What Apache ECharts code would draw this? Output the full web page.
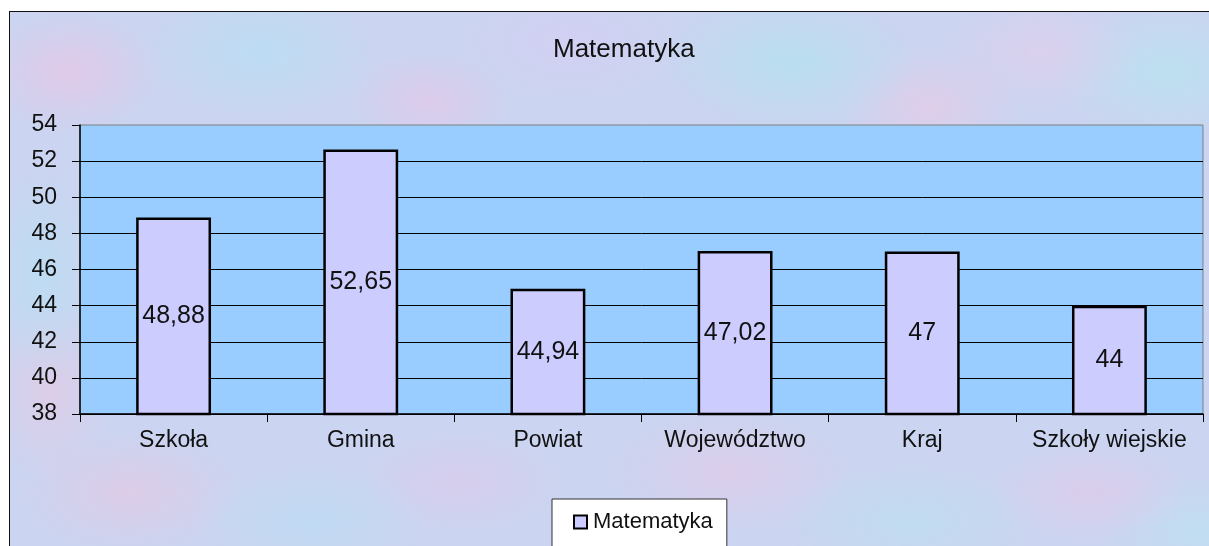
<!DOCTYPE html>
<html>
<head>
<meta charset="utf-8">
<script src="https://cdn.jsdelivr.net/npm/echarts@6/dist/echarts.min.js"></script>
<style>
html,body{margin:0;padding:0;background:#fff;width:1209px;height:546px;overflow:hidden;}
#frame{position:absolute;left:9px;top:11px;width:1220px;height:560px;border-left:1.5px solid #111;border-top:1.5px solid #111;
background-color:#cbd4f0;
background-image:
radial-gradient(ellipse 90px 60px at 60px 60px, rgba(238,195,228,0.6), transparent),
radial-gradient(ellipse 120px 70px at 250px 40px, rgba(180,225,245,0.65), transparent),
radial-gradient(ellipse 80px 50px at 420px 90px, rgba(235,195,230,0.55), transparent),
radial-gradient(ellipse 110px 60px at 560px 30px, rgba(215,205,245,0.6), transparent),
radial-gradient(ellipse 130px 70px at 780px 50px, rgba(175,228,240,0.65), transparent),
radial-gradient(ellipse 90px 60px at 920px 95px, rgba(238,200,228,0.55), transparent),
radial-gradient(ellipse 100px 60px at 1030px 40px, rgba(230,205,235,0.55), transparent),
radial-gradient(ellipse 120px 70px at 1160px 60px, rgba(180,230,240,0.65), transparent),
radial-gradient(ellipse 60px 110px at 30px 260px, rgba(180,225,245,0.6), transparent),
radial-gradient(ellipse 60px 90px at 40px 380px, rgba(235,200,225,0.55), transparent),
radial-gradient(ellipse 110px 60px at 120px 480px, rgba(235,198,225,0.55), transparent),
radial-gradient(ellipse 120px 60px at 300px 510px, rgba(185,222,245,0.6), transparent),
radial-gradient(ellipse 100px 50px at 450px 470px, rgba(225,200,235,0.55), transparent),
radial-gradient(ellipse 120px 60px at 720px 460px, rgba(232,200,230,0.55), transparent),
radial-gradient(ellipse 130px 60px at 900px 510px, rgba(185,225,240,0.6), transparent),
radial-gradient(ellipse 100px 50px at 1080px 480px, rgba(230,200,232,0.55), transparent),
radial-gradient(ellipse 100px 60px at 1190px 520px, rgba(185,228,242,0.6), transparent);}
#chart{position:absolute;left:0;top:0;width:1209px;height:546px;}
</style>
</head>
<body>
<div id="frame"></div>
<div id="chart"></div>
<script>
const categories = ['Szkoła', 'Gmina', 'Powiat', 'Województwo', 'Kraj', 'Szkoły wiejskie'];
const values = [48.88, 52.65, 44.94, 47.02, 47, 44];
const seriesName = 'Matematyka';
const titleText = 'Matematyka';
const yMin = 38, yMax = 54, yStep = 2;

const FONT = '"Liberation Sans", Arial, sans-serif';
const chart = echarts.init(document.getElementById('chart'), null, {renderer: 'canvas'});
chart.setOption({
  backgroundColor: 'transparent',
  animation: false,
  title: {
    text: titleText, left: 548, top: 32,
    textStyle: {fontFamily: FONT, fontSize: 26, fontWeight: 'normal', color: '#111'}
  },
  legend: {
    data: [seriesName], left: 552, top: 499,
    backgroundColor: '#fff', borderColor: '#333', borderWidth: 1,
    padding: [12, 14, 30, 21], itemWidth: 13, itemHeight: 13, itemGap: 5,
    icon: 'rect',
    itemStyle: {color: '#ccccff', borderColor: '#000', borderWidth: 2},
    textStyle: {fontFamily: FONT, fontSize: 22, color: '#111', padding: [0, 0, 0, 1]}
  },
  grid: {
    left: 80, top: 125, right: 6, bottom: 132,
    show: true, backgroundColor: '#99ccff', borderColor: '#808080', borderWidth: 1
  },
  xAxis: {
    type: 'category', data: categories,
    axisLine: {lineStyle: {color: '#000', width: 1.5}},
    axisTick: {show: true, inside: false, length: 8, alignWithLabel: false, lineStyle: {color: '#000'}},
    axisLabel: {fontFamily: FONT, fontSize: 23, color: '#111', margin: 15, interval: 0}
  },
  yAxis: {
    type: 'value', min: yMin, max: yMax, interval: yStep,
    axisLine: {show: true, lineStyle: {color: '#000', width: 1.5}},
    axisTick: {show: true, length: 8, lineStyle: {color: '#000'}},
    axisLabel: {fontFamily: FONT, fontSize: 23, color: '#111', margin: 23},
    splitLine: {show: true, showMaxLine: false, lineStyle: {color: '#000', width: 1}}
  },
  series: [{
    name: seriesName, type: 'bar', data: values, barWidth: '40%',
    itemStyle: {color: '#ccccff', borderColor: '#000', borderWidth: 2.5},
    label: {
      show: true, position: 'inside', fontFamily: FONT, fontSize: 25, color: '#111',
      formatter: p => String(p.value).replace('.', ',')
    }
  }]
});
</script>
</body>
</html>
